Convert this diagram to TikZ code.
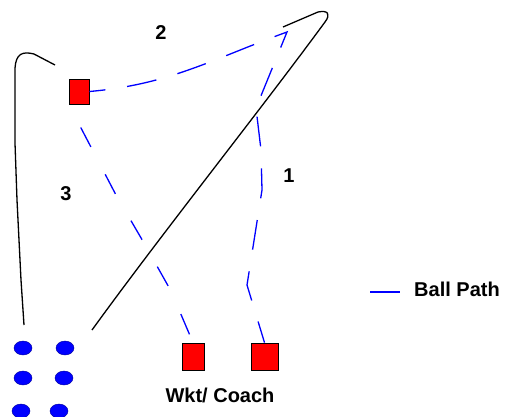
\documentclass[tikz,border=0pt]{standalone}
\usepackage{fontspec}
\setmainfont{Liberation Sans}
\usetikzlibrary{positioning,shapes.geometric}

\begin{document}
\begin{tikzpicture}[x=1pt,y=-1pt,
    fielder/.style={draw=black,fill=red,line width=0.8pt,inner sep=0pt},
    player/.style={ellipse,fill=blue,draw=blue!60!black,line width=0.4pt,
                   minimum width=18pt,minimum height=14pt,inner sep=0pt},
    run/.style={black,line width=1.3pt,line join=round},
    ball/.style={blue,line width=1.3pt},
    lbl/.style={font=\fontsize{20}{24}\selectfont\bfseries,inner sep=0pt}]
    \useasboundingbox (0,0) rectangle (508,416);

    % Bowler and the two at the stumps
    \node[fielder,minimum width=20pt,minimum height=25pt] (bowler) at (79,91.5) {};
    \node[fielder,minimum width=22pt,minimum height=27pt] (wkt)    at (193,356.5) {};
    \node[fielder,minimum width=27pt,minimum height=27pt] (coach)  at (264.5,356.5) {};
    \node[lbl] (wktlbl) at (220,395) {Wkt/ Coach};

    % Queue of players
    \foreach \x/\y/\n in {23/348/1, 65/348/2, 23/378/3, 64/378/4, 21/411/5, 59/411/6}
        \node[player] (p\n) at (\x,\y) {};

    % Running lines
    \draw[run] (55,65) -- (34,54) .. controls (22,51) and (16,54) .. (15,68)
        -- (15,143) -- (17,200) -- (21,280) -- (24,325);
    \draw[run] (92,330) .. controls (160,236) and (262,108) .. (325,22)
        .. controls (331,14) and (328,10) .. (318,12) -- (283,27);

    % Ball path
    \draw[ball,dash pattern=on 30pt off 22pt,dash phase=8pt] (coach.north)
        -- (247,285) -- (262,190) -- (261,150) -- (256,108) -- (287,32)
        to[out=200,in=5] (bowler.east);
    \draw[ball,dash pattern=on 22pt off 31pt,dash phase=30pt] (bowler.south)
        -- (81,128) -- (116,195) -- (144,243) -- (171,291) -- (wkt.north);

    \node[lbl] (one)   at (289,176) {1};
    \node[lbl] (two)   at (161,33)  {2};
    \node[lbl] (three) at (66,194)  {3};

    % Legend
    \coordinate (leg) at (370,292);
    \node[lbl,anchor=west] (legend) at (414,289) {Ball Path};
    \draw[ball] (leg) -- ++(30,0);
\end{tikzpicture}
\end{document}
